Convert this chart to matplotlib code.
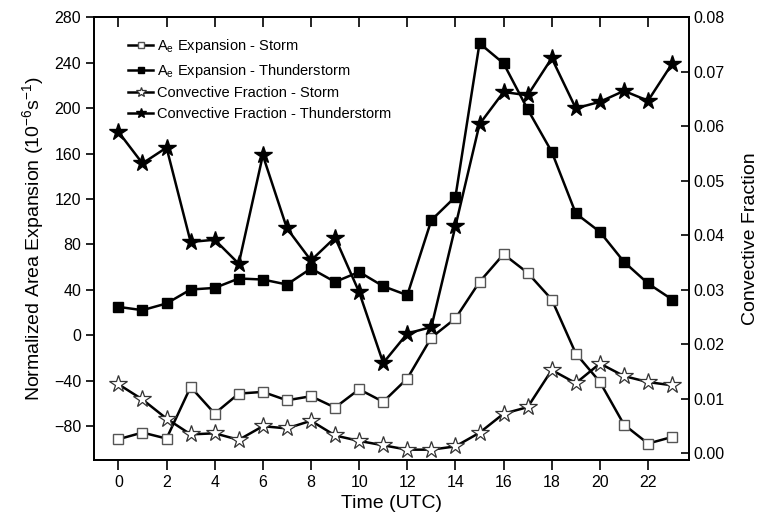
import matplotlib
matplotlib.use("Agg")
import matplotlib.pyplot as plt

plt.rcParams['font.family'] = ['Liberation Sans', 'DejaVu Sans']
plt.rcParams['mathtext.default'] = 'regular'

# hourly values, 0-23 UTC
hours = list(range(24))
ae_storm = [-91.7, -85.8, -91.1, -45.6, -69.1, -51.5, -50.0, -57.4, -53.8, -63.8, -47.7, -58.7,
            -38.2, -2.1, 14.7, 46.9, 71.3, 54.9, 31.4, -16.2, -41.2, -78.8, -95.5, -89.7]
ae_thunder = [24.9, 22.0, 27.9, 40.2, 41.6, 49.9, 49.0, 44.6, 58.7, 46.9, 55.7, 43.1,
              35.2, 101.3, 121.9, 257.1, 239.4, 198.9, 161.5, 107.2, 91.0, 64.6, 45.5, 31.4]
cf_storm = [0.0127, 0.0099, 0.0064, 0.0035, 0.0037, 0.0025, 0.0050, 0.0046, 0.0060, 0.0033, 0.0023, 0.0015,
            0.0007, 0.0007, 0.0013, 0.0038, 0.0073, 0.0085, 0.0153, 0.0129, 0.0165, 0.0142, 0.0131, 0.0125]
cf_thunder = [0.0590, 0.0532, 0.0561, 0.0388, 0.0392, 0.0348, 0.0547, 0.0413, 0.0354, 0.0396, 0.0296, 0.0166,
              0.0220, 0.0232, 0.0417, 0.0604, 0.0663, 0.0657, 0.0725, 0.0633, 0.0645, 0.0665, 0.0647, 0.0715]

xticks = list(range(0, 23, 2))
left_ticks = list(range(-80, 281, 40))
right_ticks = [i / 100 for i in range(0, 9)]

fig = plt.figure(figsize=(7.68, 5.24), dpi=100)
ax = fig.add_axes([0.1228, 0.1221, 0.7743, 0.8449])
ax2 = ax.twinx()

lw = 1.8
l1, = ax.plot(hours, ae_storm, '-s', color='black', lw=lw, ms=7,
              mfc='white', mec='#555555', mew=1.0, label='A$_e$ Expansion - Storm')
l2, = ax.plot(hours, ae_thunder, '-s', color='black', lw=lw, ms=7,
              mfc='black', mec='black', label='A$_e$ Expansion - Thunderstorm')
l3, = ax2.plot(hours, cf_storm, '-*', color='black', lw=lw, ms=13,
               mfc='white', mec='#333333', mew=0.9, label='Convective Fraction - Storm')
l4, = ax2.plot(hours, cf_thunder, '-*', color='black', lw=lw, ms=13,
               mfc='black', mec='black', label='Convective Fraction - Thunderstorm')

ax.set_xlim(-1, 23.7)
ax.set_ylim(-110, 280)
ax2.set_ylim(-0.0012, 0.08)
ax.set_xticks(xticks)
ax.set_yticks(left_ticks)
ax2.set_yticks(right_ticks)
ax2.set_yticklabels(['%.2f' % v for v in right_ticks])

ax.tick_params(axis='x', direction='out', length=7, width=1.2, labelsize=11.5)
ax.tick_params(axis='y', direction='out', length=6, width=1.2, labelsize=11.5)
ax2.tick_params(axis='y', direction='in', length=6, width=1.2, labelsize=11.5)

# unlabeled inward ticks along the top edge
top = ax.secondary_xaxis('top')
top.set_xticks(xticks)
top.tick_params(direction='in', length=7, width=1.2, labeltop=False)
top.spines['top'].set_linewidth(1.3)

for a in (ax, ax2):
    for s in a.spines.values():
        s.set_linewidth(1.3)

ax.set_xlabel('Time (UTC)', fontsize=14)
ax.set_ylabel('Normalized Area Expansion (10$^{-6}$s$^{-1}$)', fontsize=14, labelpad=6)
ax2.set_ylabel('Convective Fraction', fontsize=14, labelpad=12)

ax.legend(handles=[l1, l2, l3, l4], loc='upper left', frameon=False, fontsize=10.5,
          handlelength=1.7, handletextpad=0.25, labelspacing=0.45, markerscale=0.6,
          bbox_to_anchor=(0.035, 0.985))

fig.savefig('out.png', dpi=100)
